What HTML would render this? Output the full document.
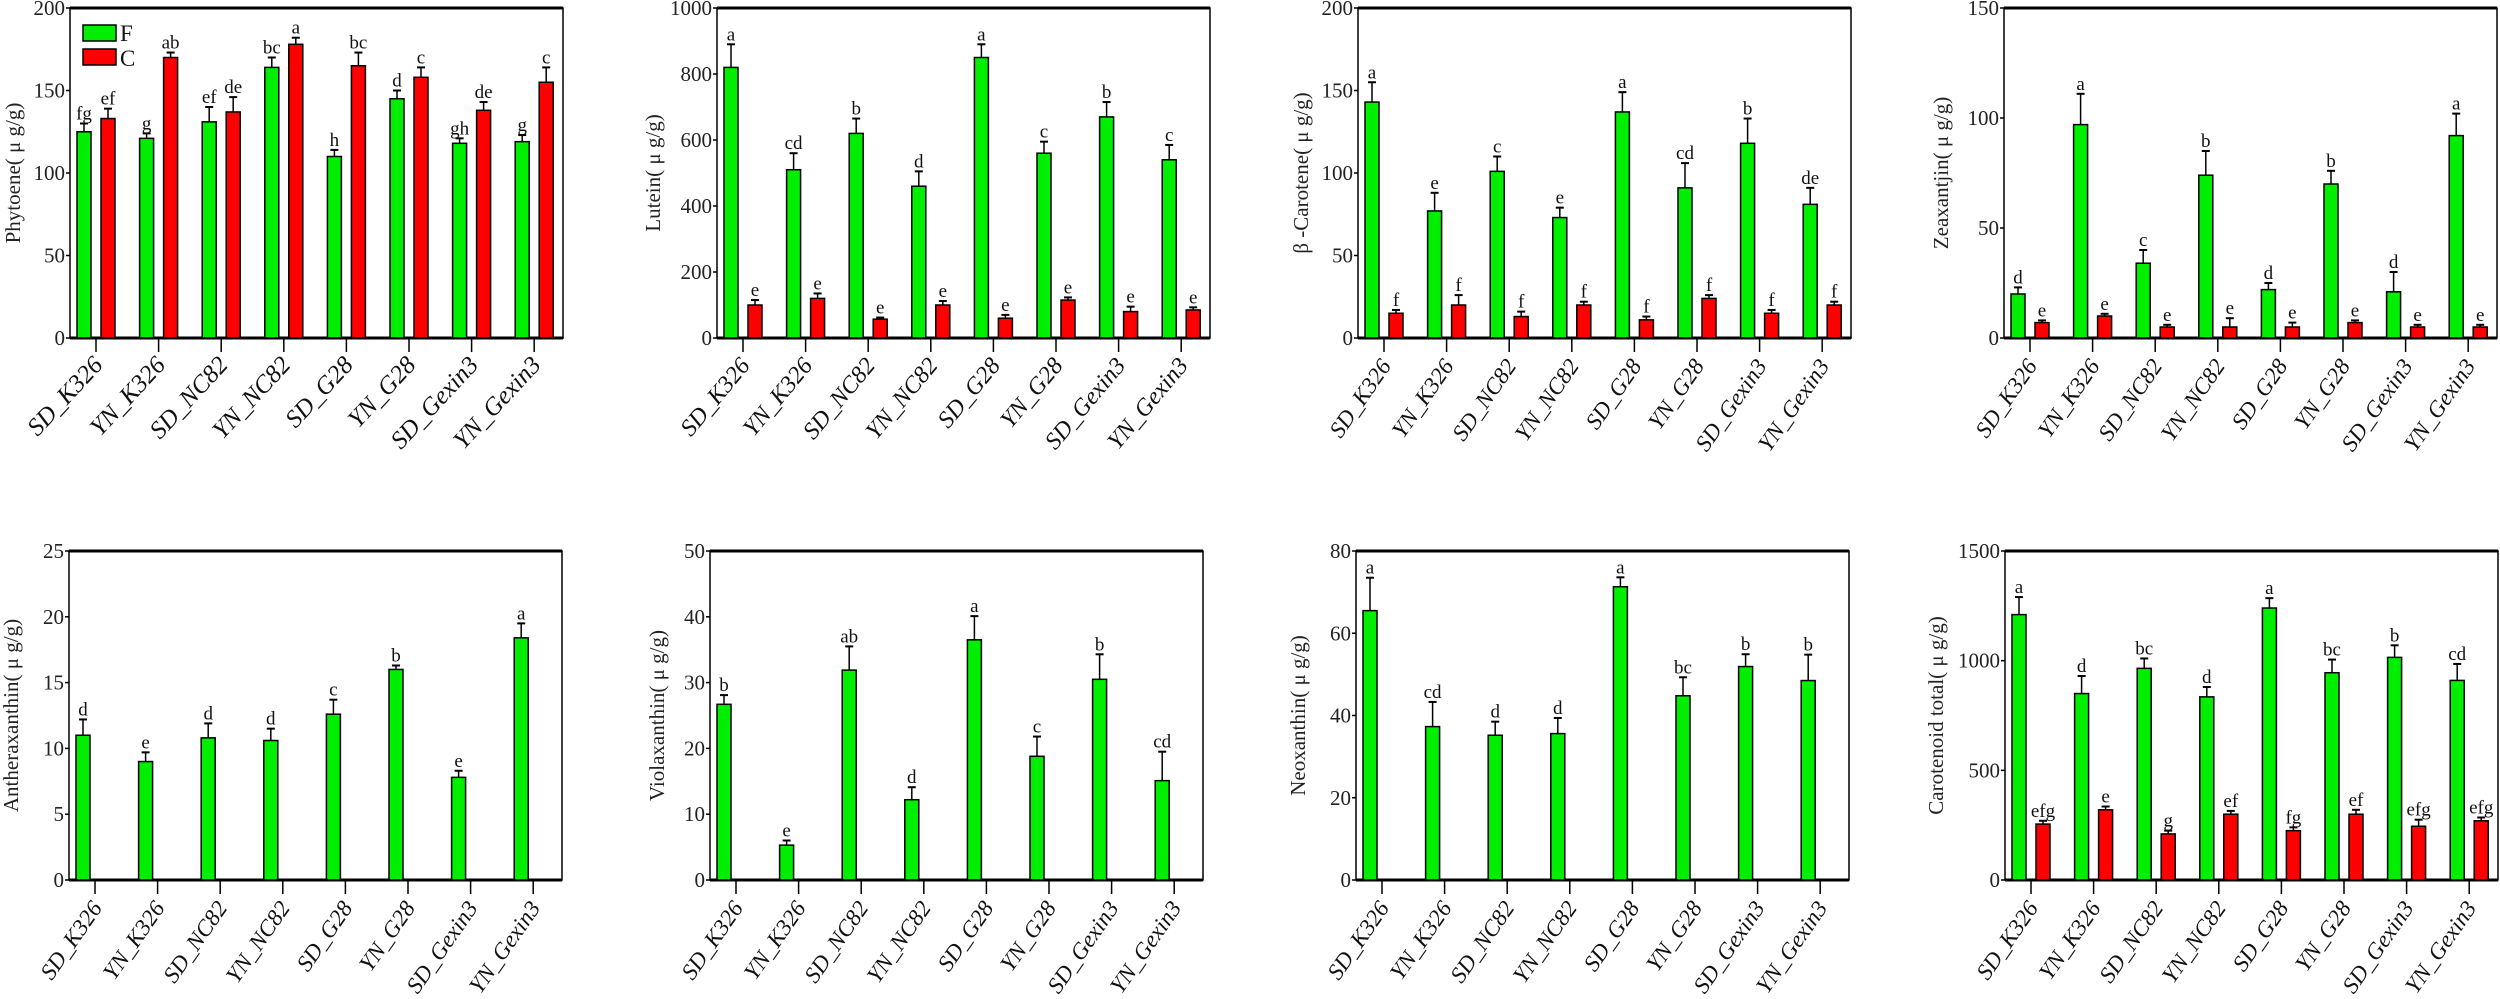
<!DOCTYPE html>
<html><head><meta charset="utf-8"><style>
html,body{margin:0;padding:0;background:#fff;}
svg{display:block;font-family:"Liberation Serif",serif;}
</style></head><body>
<svg id="chart" width="2500" height="999" viewBox="0 0 2500 999"></svg>
<script>
const categories = ["SD_K326","YN_K326","SD_NC82","YN_NC82","SD_G28","YN_G28","SD_Gexin3","YN_Gexin3"];

const phytoeneF = [125,121,131,164,110,145,118,119];
const phytoeneFErr = [5,3,9,6,4,5,3,4];
const phytoeneC = [133,170,137,178,165,158,138,155];
const phytoeneCErr = [6,3,9,4,8,6,5,9];
const phytoeneFLet = ["fg","g","ef","bc","h","d","gh","g"];
const phytoeneCLet = ["ef","ab","de","a","bc","c","de","c"];

const luteinF = [820,510,620,460,850,560,670,540];
const luteinFErr = [70,50,45,45,40,35,45,45];
const luteinC = [100,120,57,100,60,115,80,85];
const luteinCErr = [15,15,5,12,10,8,15,8];
const luteinFLet = ["a","cd","b","d","a","c","b","c"];
const luteinCLet = ["e","e","e","e","e","e","e","e"];

const caroteneF = [143,77,101,73,137,91,118,81];
const caroteneFErr = [12,11,9,6,12,15,15,10];
const caroteneC = [15,20,13,20,11,24,15,20];
const caroteneCErr = [2,6,3,2,2,2,2,2];
const caroteneFLet = ["a","e","c","e","a","cd","b","de"];
const caroteneCLet = ["f","f","f","f","f","f","f","f"];

const zeaF = [20,97,34,74,22,70,21,92];
const zeaFErr = [3,14,6,11,3,6,9,10];
const zeaC = [7,10,5,5,5,7,5,5];
const zeaCErr = [1,1,1,4,2,1,1,1];
const zeaFLet = ["d","a","c","b","d","b","d","a"];
const zeaCLet = ["e","e","e","e","e","e","e","e"];

const antherF = [11,9,10.8,10.6,12.6,16,7.8,18.4];
const antherFErr = [1.2,0.7,1.1,0.9,1.1,0.3,0.5,1.1];
const antherFLet = ["d","e","d","d","c","b","e","a"];

const violaF = [26.7,5.3,31.9,12.2,36.5,18.8,30.5,15.1];
const violaFErr = [1.4,0.7,3.6,1.9,3.6,3,3.8,4.4];
const violaFLet = ["b","e","ab","d","a","c","b","cd"];

const neoF = [65.5,37.3,35.2,35.6,71.3,44.8,51.9,48.5];
const neoFErr = [8,6,3.3,3.8,2.3,4.5,3,6.3];
const neoFLet = ["a","cd","d","d","a","bc","b","b"];

const totalF = [1210,850,965,835,1240,945,1015,910];
const totalFErr = [80,80,45,45,45,60,55,75];
const totalC = [255,320,210,300,225,300,245,270];
const totalCErr = [15,15,15,15,15,20,30,15];
const totalFLet = ["a","d","bc","d","a","bc","b","cd"];
const totalCLet = ["efg","e","g","ef","fg","ef","efg","efg"];

const phytoeneTicks = [0,50,100,150,200];
const luteinTicks = [0,200,400,600,800,1000];
const caroteneTicks = [0,50,100,150,200];
const zeaTicks = [0,50,100,150];
const antherTicks = [0,5,10,15,20,25];
const violaTicks = [0,10,20,30,40,50];
const neoTicks = [0,20,40,60,80];
const totalTicks = [0,500,1000,1500];

const NS = "http://www.w3.org/2000/svg";
const svg = document.getElementById("chart");
function mk(tag, attrs, parent){
  const e = document.createElementNS(NS, tag);
  for (const k in attrs) e.setAttribute(k, attrs[k]);
  (parent||svg).appendChild(e);
  return e;
}

function panel(opt){
  const g = mk("g", {});
  
  
  const L = opt.left, R = opt.left + 493, T = opt.top, B = opt.bottom;
  const max = opt.ticks[opt.ticks.length-1];
  const y = v => B - v / max * (B - T);
  const x = i => L + 26 + i * 62.6;
  const fr = mk("rect", {x:L, y:T, width:R-L, height:B-T, fill:"none", stroke:"#000", "stroke-width":1.5}, g);
  
  
  mk("line", {x1:L, y1:T, x2:R, y2:T, stroke:"#000", "stroke-width":3}, g);
  mk("line", {x1:L, y1:B, x2:R, y2:B, stroke:"#000", "stroke-width":3}, g);
  opt.ticks.forEach(t => {
    mk("line", {x1:L-4, y1:y(t), x2:L, y2:y(t), stroke:"#000", "stroke-width":1.5}, g);
    const tx = mk("text", {x:L-5, y:y(t)+7, "text-anchor":"end", "font-size":21, fill:"#222"}, g);
    tx.textContent = t;
    
    
  });
  const yt = mk("text", {x:0, y:0, "text-anchor":"middle", "font-size":21, fill:"#222",
    transform:`translate(${opt.titleX},${(T+B)/2}) rotate(-90)`}, g);
  yt.textContent = opt.title;
  
  
  categories.forEach((c, i) => {
    mk("line", {x1:x(i), y1:B, x2:x(i), y2:B+14, stroke:"#000", "stroke-width":1.5}, g);
    const lb = mk("text", {x:0, y:0, "text-anchor":"end", "font-size":opt.labelSize, "font-style":"italic", fill:"#111",
      transform:`translate(${x(i)+8},${B+28}) rotate(${opt.rot})`}, g);
    lb.textContent = c;
    
    
  });
  const series = [[opt.f, opt.fe, opt.fl, "#00ee00", -12, "bar-f"]];
  if (opt.c) series.push([opt.c, opt.ce, opt.cl, "#ff0000", 12, "bar-c"]);
  series.forEach(([vals, errs, lets, col, off, nm]) => {
    vals.forEach((v, i) => {
      const cx = x(i) + off;
      const r = mk("rect", {x:cx-7, y:y(v), width:14, height:B-y(v), fill:col, stroke:"#000", "stroke-width":1.5}, g);
      
      
      const top = y(v + errs[i]);
      mk("line", {x1:cx, y1:y(v), x2:cx, y2:top, stroke:"#000", "stroke-width":1.5}, g);
      mk("line", {x1:cx-4, y1:top, x2:cx+4, y2:top, stroke:"#000", "stroke-width":2}, g);
      const lt = mk("text", {x:cx, y:top-4, "text-anchor":"middle", "font-size":19, fill:"#111"}, g);
      lt.textContent = lets[i];
      
      
    });
  });
}

const rowA = {top:8, bottom:338};
const rowB = {top:551, bottom:880};
panel({name:"phytoene-panel", left:70, ...rowA, ticks:phytoeneTicks, title:"Phytoene( μ g/g)", titleX:20, labelSize:25, rot:-47,
  f:phytoeneF, fe:phytoeneFErr, fl:phytoeneFLet, c:phytoeneC, ce:phytoeneCErr, cl:phytoeneCLet});
panel({name:"lutein-panel", left:717, ...rowA, ticks:luteinTicks, title:"Lutein( μ g/g)", titleX:660, labelSize:24, rot:-50,
  f:luteinF, fe:luteinFErr, fl:luteinFLet, c:luteinC, ce:luteinCErr, cl:luteinCLet});
panel({name:"beta-carotene-panel", left:1358, ...rowA, ticks:caroteneTicks, title:"β -Carotene( μ g/g)", titleX:1308, labelSize:23, rot:-55,
  f:caroteneF, fe:caroteneFErr, fl:caroteneFLet, c:caroteneC, ce:caroteneCErr, cl:caroteneCLet});
panel({name:"zeaxanthin-panel", left:2004, ...rowA, ticks:zeaTicks, title:"Zeaxantjin( μ g/g)", titleX:1948, labelSize:23, rot:-55,
  f:zeaF, fe:zeaFErr, fl:zeaFLet, c:zeaC, ce:zeaCErr, cl:zeaCLet});
panel({name:"antheraxanthin-panel", left:69, ...rowB, ticks:antherTicks, title:"Antheraxanthin( μ g/g)", titleX:18, labelSize:23, rot:-55,
  f:antherF, fe:antherFErr, fl:antherFLet});
panel({name:"violaxanthin-panel", left:710, ...rowB, ticks:violaTicks, title:"Violaxanthin( μ g/g)", titleX:664, labelSize:23, rot:-55,
  f:violaF, fe:violaFErr, fl:violaFLet});
panel({name:"neoxanthin-panel", left:1356, ...rowB, ticks:neoTicks, title:"Neoxanthin( μ g/g)", titleX:1305, labelSize:23, rot:-55,
  f:neoF, fe:neoFErr, fl:neoFLet});
panel({name:"carotenoid-total-panel", left:2005, ...rowB, ticks:totalTicks, title:"Carotenoid total( μ g/g)", titleX:1943, labelSize:23, rot:-55,
  f:totalF, fe:totalFErr, fl:totalFLet, c:totalC, ce:totalCErr, cl:totalCLet});

const lg = mk("g", {});


const l1 = mk("rect", {x:83, y:25, width:33, height:16, fill:"#00ee00", stroke:"#000", "stroke-width":1.5}, lg);


const l2 = mk("rect", {x:83, y:49, width:33, height:16, fill:"#ff0000", stroke:"#000", "stroke-width":1.5}, lg);


const t1 = mk("text", {x:120, y:41, "font-size":23, fill:"#111"}, lg);
t1.textContent = "F";


const t2 = mk("text", {x:120, y:66, "font-size":23, fill:"#111"}, lg);
t2.textContent = "C";


</script>
</body></html>
